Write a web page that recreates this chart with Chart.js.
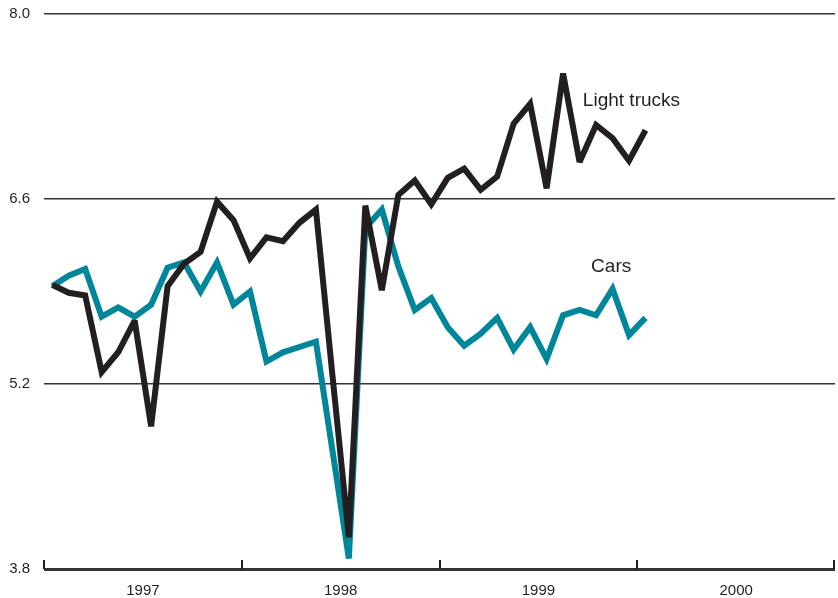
<!DOCTYPE html>
<html>
<head>
<meta charset="utf-8">
<script src="https://cdn.jsdelivr.net/npm/chart.js@4"></script>
<style>
  html, body { margin: 0; padding: 0; background: #fff; }
  #wrap { width: 838px; height: 598px; }
</style>
</head>
<body>
<div id="wrap"><canvas id="chart" width="838" height="598"></canvas></div>
<script>
// Monthly series, Jan 1997 .. Jan 2000
var years  = ['1997', '1998', '1999', '2000'];
var yTicks = [3.8, 5.2, 6.6, 8.0];

var trucks = [5.95, 5.89, 5.87, 5.29, 5.44, 5.68, 4.88, 5.94, 6.11, 6.20, 6.58, 6.44,
              6.15, 6.31, 6.28, 6.42, 6.52, 5.27, 4.04, 6.55, 5.91, 6.63, 6.74, 6.56,
              6.76, 6.83, 6.67, 6.77, 7.17, 7.32, 6.68, 7.55, 6.88, 7.16, 7.06, 6.89,
              7.12];
var cars   = [5.94, 6.02, 6.07, 5.71, 5.78, 5.71, 5.80, 6.08, 6.12, 5.90, 6.12, 5.80,
              5.90, 5.37, 5.44, 5.48, 5.52, 4.70, 3.88, 6.38, 6.52, 6.09, 5.76, 5.85,
              5.63, 5.49, 5.58, 5.70, 5.46, 5.63, 5.39, 5.72, 5.76, 5.72, 5.92, 5.57,
              5.70];

// series name labels: [text, month position, value]
var seriesLabels = [['Light trucks', 32.7, 7.34], ['Cars', 33.2, 6.09]];

var INK = '#231f20';
var TEAL = '#00869b';

function toPoints(arr) {
    return arr.map(function (v, i) { return { x: i + 0.5, y: v }; });
}

// shorter miters so the sharp spikes end flat, like the print
var miter = {
    id: 'miter',
    beforeDatasetsDraw: function (chart) { chart.ctx.miterLimit = 3; }
};

// year boundary ticks + series labels
var extras = {
    id: 'extras',
    afterDraw: function (chart) {
        var ctx = chart.ctx, xs = chart.scales.x, ys = chart.scales.y;
        var base = ys.getPixelForValue(yTicks[0]);
        ctx.save();
        ctx.strokeStyle = INK;
        ctx.lineWidth = 2;
        for (var k = 0; k <= years.length; k++) {
            var px = Math.round(xs.getPixelForValue(k * 12));
            if (k === years.length) px -= 1;
            ctx.beginPath();
            ctx.moveTo(px, base);
            ctx.lineTo(px, base - 9);
            ctx.stroke();
        }
        ctx.fillStyle = INK;
        ctx.font = '19px "Liberation Sans", Arial, sans-serif';
        ctx.textBaseline = 'middle';
        seriesLabels.forEach(function (l) {
            ctx.fillText(l[0], xs.getPixelForValue(l[1]), ys.getPixelForValue(l[2]));
        });
        ctx.restore();
    }
};

new Chart(document.getElementById('chart'), {
    type: 'line',
    data: {
        datasets: [{
            label: 'Light trucks',
            data: toPoints(trucks),
            borderColor: INK,
            borderWidth: 6,
            pointRadius: 0,
            tension: 0
        }, {
            label: 'Cars',
            data: toPoints(cars),
            borderColor: TEAL,
            borderWidth: 6,
            pointRadius: 0,
            tension: 0
        }]
    },
    options: {
        responsive: false,
        animation: false,
        layout: { padding: { top: 14, right: 3, left: 0, bottom: 0 } },
        plugins: { legend: { display: false }, tooltip: { enabled: false } },
        scales: {
            x: {
                type: 'linear',
                min: 0,
                max: years.length * 12,
                grid: { display: false },
                border: { display: false },
                afterBuildTicks: function (s) {
                    s.ticks = years.map(function (y, i) { return { value: i * 12 + 6 }; });
                },
                afterFit: function (s) { s.height = 29; },
                ticks: {
                    autoSkip: false,
                    maxRotation: 0,
                    padding: 5,
                    color: INK,
                    font: { family: '"Liberation Sans", Arial, sans-serif', size: 15 },
                    callback: function (v) { return years[(v - 6) / 12]; }
                }
            },
            y: {
                min: yTicks[0],
                max: yTicks[yTicks.length - 1],
                afterBuildTicks: function (s) {
                    s.ticks = yTicks.map(function (v) { return { value: v }; });
                },
                afterFit: function (s) {
                    s.width = 44;
                    s.paddingTop = 0;
                    s.paddingBottom = 0;
                },
                border: { display: false },
                grid: {
                    drawTicks: false,
                    color: '#333333',
                    lineWidth: function (c) { return c.tick && c.tick.value === yTicks[0] ? 3 : 1.6; }
                },
                ticks: {
                    padding: 14,
                    color: INK,
                    font: { family: '"Liberation Sans", Arial, sans-serif', size: 15 },
                    callback: function (v) { return v.toFixed(1); }
                }
            }
        }
    },
    plugins: [miter, extras]
});
</script>
</body>
</html>
